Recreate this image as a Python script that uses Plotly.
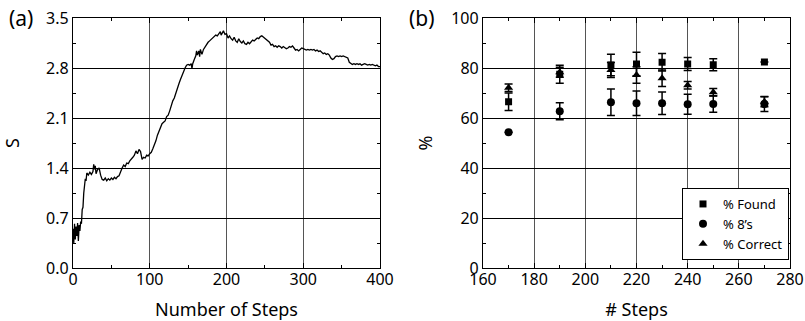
import plotly.graph_objects as go

# ---- panel (a) data ----
steps_a = [0,1,2,3,4,5,6,7,8,9,10,11,12,13,14,15,16,17,18,20,22,24,26,27,28,29,30,32,34,36,38,40,42,44,46,48,50,52,54,56,58,60,62,64,66,68,70,72,74,76,78,80,82,84,86,88,89,90,92,94,96,98,100,102,104,106,108,110,112,114,116,118,120,122,124,126,128,130,132,134,136,138,140,142,144,146,148,150,152,154,155,156,158,160,161,162,164,165,166,168,170,172,174,176,178,180,182,184,186,188,190,192,193,195,196,198,200,202,204,206,208,210,212,214,216,218,220,222,224,226,228,230,232,234,236,238,240,242,244,246,248,250,252,254,256,258,260,262,264,266,268,270,272,274,276,278,280,282,284,286,288,290,292,294,296,298,300,302,304,306,308,310,312,314,316,318,320,322,324,326,328,330,332,334,336,338,340,342,344,346,348,350,352,354,356,358,360,362,364,366,368,370,372,374,376,378,380,382,384,386,388,390,392,394,396,398,400]
s_vals = [0.55,0.35,0.62,0.40,0.58,0.45,0.63,0.38,0.60,0.52,0.65,0.62,0.82,0.85,1.05,1.12,1.25,1.22,1.33,1.30,1.34,1.31,1.35,1.45,1.38,1.43,1.32,1.38,1.40,1.30,1.24,1.23,1.26,1.22,1.25,1.23,1.26,1.24,1.27,1.25,1.28,1.29,1.36,1.40,1.44,1.42,1.47,1.46,1.50,1.52,1.55,1.58,1.64,1.60,1.66,1.63,1.55,1.52,1.55,1.54,1.58,1.57,1.60,1.62,1.67,1.72,1.78,1.86,1.92,1.96,2.02,2.04,2.06,2.12,2.14,2.20,2.28,2.34,2.38,2.46,2.52,2.58,2.64,2.70,2.76,2.80,2.84,2.85,2.84,2.86,2.79,2.86,2.92,2.97,3.04,2.98,3.04,2.96,3.06,2.99,3.06,3.10,3.14,3.16,3.18,3.20,3.22,3.23,3.26,3.25,3.29,3.31,3.26,3.30,3.32,3.27,3.28,3.22,3.25,3.21,3.19,3.23,3.18,3.16,3.21,3.17,3.15,3.18,3.14,3.13,3.16,3.14,3.17,3.19,3.18,3.20,3.22,3.21,3.24,3.25,3.23,3.21,3.20,3.18,3.16,3.12,3.13,3.10,3.11,3.09,3.11,3.10,3.08,3.10,3.09,3.07,3.08,3.10,3.09,3.11,3.08,3.05,3.06,3.04,3.06,3.08,3.07,3.06,3.05,3.06,3.05,3.06,3.05,3.06,3.04,3.05,3.03,3.04,3.02,3.00,3.01,2.99,3.00,2.98,2.94,2.92,2.93,2.96,2.97,2.96,2.97,2.96,2.97,2.96,2.95,2.94,2.88,2.86,2.85,2.86,2.85,2.86,2.85,2.86,2.84,2.85,2.86,2.85,2.84,2.85,2.84,2.85,2.84,2.83,2.84,2.82,2.82]

# ---- panel (b) data ----
steps_b = [170, 190, 210, 220, 230, 240, 250, 270]
found = [66.5, 77.5, 81.2, 81.6, 82.3, 81.6, 81.3, 82.4]
found_err = [3.5, 3.6, 4.3, 4.7, 3.5, 2.6, 2.4, None]
eights = [54.3, 62.7, 66.3, 65.9, 65.9, 65.5, 65.6, 65.6]
eights_err = [None, 3.4, 5.3, 4.9, 4.5, 4.0, 3.3, 3.0]
correct = [72.1, 78.3, 79.2, 77.2, 75.9, 73.1, 70.3, 66.5]
correct_err = [1.5, 2.0, 3.0, 3.3, 3.3, 1.5, 1.5, 2.0]

FONT = "Noto Sans"
fig = go.Figure()

fig.add_trace(go.Scatter(x=steps_a, y=s_vals, mode="lines",
                         line=dict(color="black", width=1.3),
                         xaxis="x", yaxis="y", showlegend=False))

def add_series(y, err, sym, name, size):
    fig.add_trace(go.Scatter(
        x=steps_b, y=y, mode="markers", name=name,
        marker=dict(symbol=sym, color="black", size=size),
        error_y=dict(type="data", array=err, visible=True, color="black",
                     thickness=1.5, width=4),
        xaxis="x2", yaxis="y2"))

add_series(found, found_err, "square", "% Found", 7)
add_series(eights, eights_err, "circle", "% 8\u2019s", 8)
add_series(correct, correct_err, "triangle-up", "% Correct", 8)

common = dict(showline=True, linecolor="black", linewidth=1.2, mirror="ticks",
              ticks="inside", ticklen=5, tickcolor="black", tickwidth=1,
              zeroline=False, automargin=False,
              tickfont=dict(family=FONT, size=16, color="black"),
              title_font=dict(family=FONT, size=18, color="black"))

fig.update_layout(
    width=805, height=321,
    margin=dict(l=0, r=0, t=0, b=0, autoexpand=False),
    paper_bgcolor="white", plot_bgcolor="white",
    font=dict(family=FONT, color="black"),
    xaxis=dict(domain=[73/805, 380/805], range=[0, 400], dtick=100,
               showgrid=True, gridcolor="#555", gridwidth=1, ticklabelstandoff=-3,
               minor=dict(dtick=50, ticks="inside", ticklen=3, tickcolor="black", showgrid=False),
               title=dict(text="Number of Steps", standoff=17), anchor="y", **common),
    yaxis=dict(domain=[1-268/321, 1-18/321], range=[0, 3.5], dtick=0.7, tickformat=".1f",
               showgrid=True, gridcolor="black", gridwidth=1,
               minor=dict(dtick=0.35, ticks="inside", ticklen=3, tickcolor="black", showgrid=False),
               title=dict(text="S", standoff=21), anchor="x", **common),
    xaxis2=dict(domain=[483/805, 790/805], range=[160, 280], dtick=20,
                showgrid=True, gridcolor="#555", gridwidth=1, ticklabelstandoff=-3,
                minor=dict(dtick=10, ticks="inside", ticklen=3, tickcolor="black", showgrid=False),
                title=dict(text="# Steps", standoff=17), anchor="y2", **common),
    yaxis2=dict(domain=[1-268/321, 1-18/321], range=[0, 100], dtick=20,
                showgrid=True, gridcolor="black", gridwidth=1,
                minor=dict(dtick=10, ticks="inside", ticklen=3, tickcolor="black", showgrid=False),
                title=dict(text="%", standoff=13), anchor="x2", **common),
    legend=dict(x=789/805, y=1-260/321, xanchor="right", yanchor="bottom",
                bordercolor="black", borderwidth=1, bgcolor="white",
                font=dict(family=FONT, size=13, color="black"),
                itemwidth=30, tracegroupgap=0),
    annotations=[
        dict(text="(a)", x=7/805, y=1-18/321, xref="paper", yref="paper",
             xanchor="left", yanchor="middle", showarrow=False,
             font=dict(family=FONT, size=21, color="black")),
        dict(text="(b)", x=407/805, y=1-18/321, xref="paper", yref="paper",
             xanchor="left", yanchor="middle", showarrow=False,
             font=dict(family=FONT, size=21, color="black")),
    ],
)

fig.write_html("out.html", config={"displayModeBar": False},
               post_script="document.body.style.margin='0';")
